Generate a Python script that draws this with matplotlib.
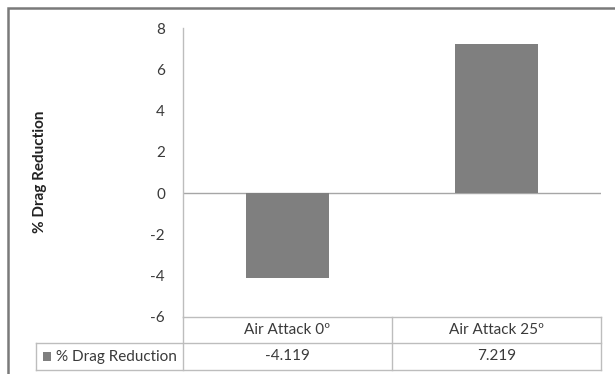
import matplotlib
matplotlib.use("Agg")
import matplotlib.pyplot as plt
from matplotlib.lines import Line2D
from matplotlib.patches import Rectangle

# Data
categories = ["Air Attack 0\u00ba", "Air Attack 25\u00ba"]
drag_reduction = [-4.119, 7.219]
value_labels = ["-4.119", "7.219"]
series_name = "% Drag Reduction"
y_ticks = [-6, -4, -2, 0, 2, 4, 6, 8]

W, H = 615, 374
fig = plt.figure(figsize=(W / 100, H / 100), dpi=100)
fig.patch.set_facecolor("white")
plt.rcParams["font.family"] = ["Lato", "DejaVu Sans"]

text_color = "#3a3a3a"
grid_color = "#bdbdbd"
bar_color = "#7f7f7f"
fs = 11

def fx(px):
    return px / W

def fy(py):
    return 1 - py / H

# Outer chart frame
fig.add_artist(Rectangle((fx(8), fy(380)), fx(700), fy(8) - fy(380),
                         transform=fig.transFigure, fill=False,
                         edgecolor="#7a7a7a", linewidth=1.8))

# Plot area
ax_left, ax_right, ax_top, ax_bottom = 183, 601, 28, 317
ax = fig.add_axes([fx(ax_left), fy(ax_bottom), fx(ax_right - ax_left),
                   fy(ax_top) - fy(ax_bottom)])
x = list(range(len(categories)))
ax.bar(x, drag_reduction, width=0.4, color=bar_color, zorder=2)
ax.set_xlim(-0.5, len(categories) - 0.5)
ax.set_ylim(-6, 8)
ax.set_yticks(y_ticks)
ax.set_yticklabels([str(t) for t in y_ticks], color=text_color, fontsize=fs)
ax.tick_params(axis="y", length=0, pad=13)
ax.set_xticks([])
for side in ["top", "right", "bottom"]:
    ax.spines[side].set_visible(False)
ax.spines["left"].set_color(grid_color)
ax.spines["left"].set_linewidth(1.0)
ax.axhline(0, color="#a6a6a6", linewidth=1.0, zorder=1)

fig.text(fx(40), fy(172), series_name, rotation=90, ha="center", va="center",
         fontsize=fs, fontweight="bold", color="#222222")

# Data table under the plot
tbl_left, tbl_col, tbl_right = 36, 183, 601
col_mid = (tbl_col + tbl_right) / 2
row_top, row_mid, row_bot = 317, 343, 370

def hline(y, x0, x1):
    fig.add_artist(Line2D([fx(x0), fx(x1)], [fy(y), fy(y)],
                          transform=fig.transFigure, color=grid_color, lw=1.0))

def vline(xp, y0, y1):
    fig.add_artist(Line2D([fx(xp), fx(xp)], [fy(y0), fy(y1)],
                          transform=fig.transFigure, color=grid_color, lw=1.0))

hline(row_top, tbl_col, tbl_right)
hline(row_mid, tbl_left, tbl_right)
hline(row_bot, tbl_left, tbl_right)
vline(tbl_left, row_mid, row_bot)
vline(tbl_col, row_top, row_bot)
vline(col_mid, row_top, row_bot)
vline(tbl_right, row_top, row_bot)

col_centers = [(tbl_col + col_mid) / 2, (col_mid + tbl_right) / 2]
for cx, cat, val in zip(col_centers, categories, value_labels):
    fig.text(fx(cx), fy((row_top + row_mid) / 2), cat, ha="center",
             va="center", fontsize=fs, color=text_color)
    fig.text(fx(cx), fy((row_mid + row_bot) / 2), val, ha="center",
             va="center", fontsize=fs, color=text_color)

# Legend key in the table row
fig.add_artist(Rectangle((fx(43), fy(361)), fx(8), fy(352) - fy(361),
                         transform=fig.transFigure, facecolor=bar_color,
                         edgecolor="none"))
fig.text(fx(56), fy((row_mid + row_bot) / 2), series_name, ha="left",
         va="center", fontsize=fs, color=text_color)

fig.savefig("out.png", dpi=100, facecolor="white")
